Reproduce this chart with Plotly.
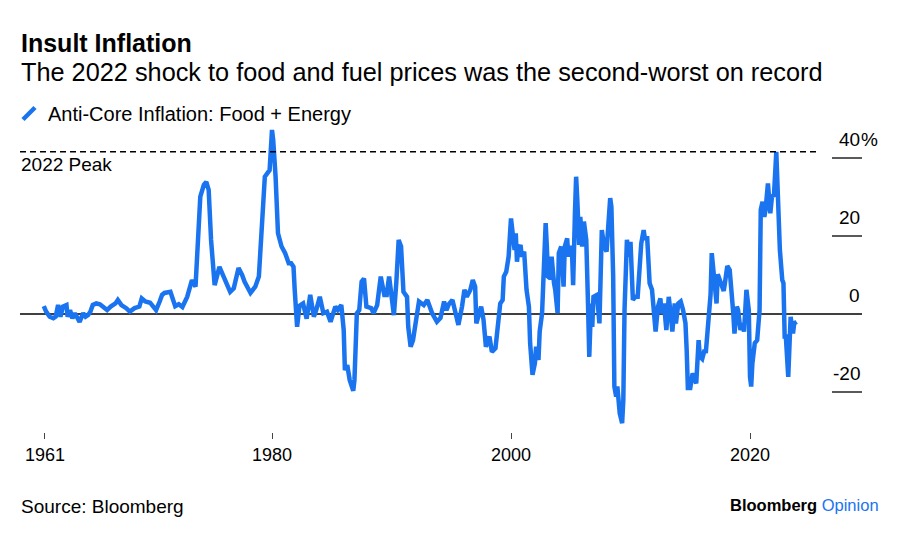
import plotly.graph_objects as go

# ---- data ----
years = [1960.9, 1961.1, 1961.4, 1961.7, 1961.9, 1962.1, 1962.3, 1962.5, 1962.8, 1962.9,
         1963.1, 1963.3, 1963.5, 1963.7, 1963.9, 1964.2, 1964.4, 1964.6, 1964.8, 1965.0,
         1965.3, 1965.6, 1965.9, 1966.2, 1966.5, 1966.9, 1967.1, 1967.4, 1967.8, 1968.1,
         1968.5, 1968.9, 1969.1, 1969.4, 1969.8, 1970.1, 1970.3, 1970.6, 1970.8, 1971.0,
         1971.5, 1971.9, 1972.2, 1972.5, 1972.9, 1973.3, 1973.6, 1974.0, 1974.3, 1974.5,
         1974.7, 1974.9, 1975.1, 1975.2, 1975.6, 1976.1, 1976.5, 1976.8, 1977.2, 1977.5,
         1977.7, 1978.2, 1978.6, 1978.9, 1979.1, 1979.4, 1979.8, 1980.0, 1980.1, 1980.3,
         1980.5, 1980.8, 1981.1, 1981.4, 1981.6, 1981.8, 1981.9, 1982.1, 1982.3, 1982.6,
         1982.9, 1983.2, 1983.5, 1983.7, 1984.0, 1984.3, 1984.6, 1984.9, 1985.3, 1985.5,
         1985.8, 1986.0, 1986.1, 1986.3, 1986.5, 1986.8, 1986.9, 1987.1, 1987.3, 1987.5,
         1987.7, 1987.9, 1988.3, 1988.5, 1988.8, 1989.1, 1989.4, 1989.6, 1989.8, 1990.0,
         1990.2, 1990.4, 1990.6, 1990.8, 1991.0, 1991.3, 1991.4, 1991.6, 1991.8, 1992.1,
         1992.3, 1992.7, 1993.0, 1993.4, 1993.8, 1994.1, 1994.4, 1994.6, 1994.8, 1995.1,
         1995.4, 1995.6, 1995.9, 1996.1, 1996.3, 1996.6, 1996.8, 1997.0, 1997.1, 1997.5,
         1997.7, 1997.9, 1998.2, 1998.4, 1998.7, 1998.9, 1999.1, 1999.3, 1999.4, 1999.6,
         1999.8, 2000.0, 2000.1, 2000.3, 2000.4, 2000.5, 2000.6, 2000.8, 2000.9, 2001.1,
         2001.3, 2001.5, 2001.6, 2001.8, 2002.0, 2002.1, 2002.3, 2002.4, 2002.6, 2002.8,
         2002.9, 2003.0, 2003.1, 2003.3, 2003.4, 2003.6, 2003.7, 2003.9, 2004.0, 2004.2,
         2004.4, 2004.5, 2004.7, 2004.8, 2004.9, 2005.1, 2005.2, 2005.35, 2005.45, 2005.55,
         2005.7, 2005.8, 2005.95, 2006.1, 2006.3, 2006.45, 2006.55, 2006.7, 2006.8, 2006.9,
         2007.2, 2007.4, 2007.5, 2007.6, 2007.8, 2008.0, 2008.1, 2008.3, 2008.4, 2008.55,
         2008.65, 2008.8, 2008.9, 2009.1, 2009.3, 2009.4, 2009.5, 2009.6, 2009.7, 2009.9,
         2010.0, 2010.2, 2010.4, 2010.6, 2010.7, 2010.9, 2011.1, 2011.2, 2011.4, 2011.6,
         2011.8, 2012.0, 2012.1, 2012.3, 2012.5, 2012.6, 2012.8, 2013.0, 2013.2, 2013.4,
         2013.5, 2013.7, 2013.8, 2014.0, 2014.2, 2014.4, 2014.6, 2014.7, 2014.8, 2015.0,
         2015.2, 2015.3, 2015.5, 2015.7, 2015.8, 2016.0, 2016.2, 2016.3, 2016.5, 2016.7,
         2016.8, 2017.0, 2017.2, 2017.3, 2017.5, 2017.8, 2017.9, 2018.1, 2018.3, 2018.5,
         2018.6, 2018.7, 2018.9, 2019.0, 2019.2, 2019.4, 2019.5, 2019.7, 2019.9, 2020.0,
         2020.1, 2020.2, 2020.4, 2020.6, 2020.8, 2020.9, 2021.05, 2021.2, 2021.3, 2021.5,
         2021.7, 2021.85, 2022.0, 2022.2, 2022.3, 2022.4, 2022.5, 2022.7, 2022.8, 2022.9,
         2023.0, 2023.2, 2023.3, 2023.4, 2023.6, 2023.7, 2023.9]

anti_core = [2.0, 0.6, -0.7, -1.1, -0.7, 2.3, -0.7, 1.9, 2.3, -0.7,
             1.0, -1.1, 0.2, -0.7, -2.0, 0.2, -0.7, -0.3, 0.6, 2.3,
             2.7, 2.5, 1.9, 1.0, 1.9, 2.7, 3.6, 2.3, 1.5, 0.6,
             1.5, 1.9, 4.0, 3.2, 2.9, 1.9, 1.0, 3.2, 4.9, 5.4,
             5.7, 2.0, 2.5, 1.8, 4.4, 8.7, 7.0, 30.1, 33.1, 33.9,
             31.8, 19.0, 8.7, 7.4, 12.1, 8.3, 5.7, 6.6, 11.8, 10.0,
             8.3, 5.4, 7.0, 9.6, 21.5, 35.2, 36.9, 47.2, 44.6, 35.2,
             20.7, 17.3, 15.6, 13.0, 13.0, 12.1, 6.2, -3.3, 2.1, 2.7,
             -1.2, 4.9, -0.7, 1.0, 4.4, 0.2, 0.6, -2.0, 1.9, 1.0,
             2.3, -4.1, -14.4, -13.1, -16.9, -19.7, -16.9, 0.2, 1.0, 8.3,
             9.1, 1.9, 1.5, 0.2, 2.3, 9.6, 4.9, 4.9, 9.6, 4.4,
             -0.3, 7.9, 19.0, 17.3, 5.7, 4.4, -3.3, -8.4, -6.7, -0.7,
             3.2, 2.3, 3.6, 0.2, -2.0, -1.0, 3.2, 1.0, 2.5, 3.6,
             -1.1, -2.8, 1.9, 6.2, 4.4, 6.2, 8.7, 7.0, -2.4, 1.9,
             -1.5, -8.4, -5.8, -9.7, -8.8, -2.4, 2.7, 3.6, 9.6, 10.8,
             14.7, 24.5, 21.5, 16.4, 20.7, 13.4, 16.4, 17.7, 14.7, 16.0,
             6.2, 1.9, -7.5, -15.6, -12.6, -8.4, -11.8, -4.5, 0.2, 13.8,
             23.3, 17.3, 9.6, 9.1, 14.7, 7.9, 6.2, 0.2, 15.6, 17.3,
             7.0, 17.3, 19.4, 14.7, 17.3, 16.4, 7.4, 25.8, 35.2, 29.2,
             17.7, 24.9, 17.3, 23.7, 19.0, 1.9, -11.0, 2.7, -3.3, 4.4,
             4.9, -2.4, 16.4, 21.5, 17.3, 16.0, 20.7, 29.7, 27.5, 9.6,
             -18.6, -21.2, -18.6, -25.5, -28.0, -22.0, 1.0, 16.4, 19.0, 14.7,
             18.5, 3.6, 4.4, 4.4, 7.9, 18.1, 21.5, 19.4, 19.4, 7.9,
             6.2, -0.7, -4.5, 1.9, 4.0, 0.2, 2.7, -4.1, 4.4, -1.1,
             -4.5, 2.7, -2.4, 2.7, 3.2, 1.0, -2.4, -9.2, -19.0, -19.0,
             -15.2, -16.1, -17.8, -6.7, -10.9, -11.5, -9.2, -10.0, -2.0, 5.0,
             15.6, 8.7, 2.7, 10.2, 8.5, 5.9, 7.9, 12.3, 11.3, 5.3,
             0.2, -5.0, 1.9, 1.0, -4.1, -2.4, -4.5, 6.2, 1.0, -16.1,
             -18.6, -12.6, -7.5, -6.7, 1.0, 26.7, 28.8, 24.9, 26.7, 33.5,
             25.8, 30.5, 30.1, 41.6, 31.0, 19.8, 16.4, 8.7, 7.9, -5.8,
             -5.8, -16.1, -7.5, -0.7, -5.0, -2.4, -2.0]

x_tick_vals = [1961, 1980, 2000, 2020]
x_tick_text = ["1961", "1980", "2000", "2020"]
y_tick_vals = [40, 20, 0, -20]
y_tick_text = ["40", "20", "0", "-20"]

peak_2022 = max(v for y, v in zip(years, anti_core) if 2022 <= y < 2023)

# ---- layout geometry (pixels) ----
W, H = 900, 535
L, R, T, B = 20, 38, 120, 103
PW, PH = W - L - R, H - T - B


def px(x):
    return (x - L) / PW


def py(y):
    return (H - B - y) / PH


BLUE = "#1A74F0"
FONT = "Liberation Sans, Arial, sans-serif"

fig = go.Figure()
fig.add_trace(go.Scatter(x=years, y=anti_core, mode="lines",
                         line=dict(color=BLUE, width=4.5), showlegend=False,
                         hoverinfo="skip"))

shapes = []
annotations = []

# zero line and right-side tick lines
for v, t in zip(y_tick_vals, y_tick_text):
    if v == 0:
        shapes.append(dict(type="line", xref="paper", yref="y", x0=0, x1=1, y0=v, y1=v,
                           line=dict(color="black", width=1.3), layer="below"))
    else:
        shapes.append(dict(type="line", xref="paper", yref="y", x0=px(832), x1=1, y0=v, y1=v,
                           line=dict(color="black", width=1.3)))
    annotations.append(dict(xref="paper", yref="y", x=1, y=v, xanchor="right", yanchor="middle",
                            yshift=18.5, text=t, showarrow=False,
                            font=dict(family=FONT, size=19, color="black")))
annotations.append(dict(xref="paper", yref="y", x=1, y=40, xanchor="left", yanchor="middle",
                        yshift=18.5, xshift=-3, text="%", showarrow=False,
                        font=dict(family=FONT, size=19, color="black")))

# 2022 peak dashed line
shapes.append(dict(type="line", xref="paper", yref="y", x0=0, x1=px(817), y0=peak_2022, y1=peak_2022,
                   line=dict(color="black", width=1.6, dash="6px,4px")))
annotations.append(dict(xref="paper", yref="y", x=0, y=peak_2022, xanchor="left", yanchor="middle",
                        yshift=-13, xshift=-1, text="2022 Peak", showarrow=False,
                        font=dict(family=FONT, size=19, color="black")))

# titles
annotations.append(dict(xref="paper", yref="paper", x=px(19), y=py(43), xanchor="left", yanchor="middle",
                        text="<b>Insult Inflation</b>", showarrow=False,
                        font=dict(family=FONT, size=25, color="black")))
annotations.append(dict(xref="paper", yref="paper", x=px(19), y=py(72), xanchor="left", yanchor="middle",
                        text="The 2022 shock to food and fuel prices was the second-worst on record",
                        showarrow=False, font=dict(family=FONT, size=25.3, color="black")))

# legend
shapes.append(dict(type="line", xref="paper", yref="paper", x0=px(23), y0=py(119.5), x1=px(35), y1=py(107.5),
                   line=dict(color=BLUE, width=4.5)))
annotations.append(dict(xref="paper", yref="paper", x=px(45.5), y=py(114), xanchor="left", yanchor="middle",
                        text="Anti-Core Inflation: Food + Energy", showarrow=False,
                        font=dict(family=FONT, size=20, color="black")))

# footer
annotations.append(dict(xref="paper", yref="paper", x=px(19), y=py(506), xanchor="left", yanchor="middle",
                        text="Source: Bloomberg", showarrow=False,
                        font=dict(family=FONT, size=19, color="black")))
annotations.append(dict(xref="paper", yref="paper", x=px(881), y=py(505), xanchor="right", yanchor="middle",
                        text="<b>Bloomberg</b> <span style='color:%s'>Opinion</span>" % BLUE,
                        showarrow=False, font=dict(family=FONT, size=16.5, color="black")))

x0 = 2000 - (511 - L) / 11.95
x1 = 2000 + (W - R - 511) / 11.95
y_top = (314 - T) / 3.9
y_bot = (314 - (H - B)) / 3.9

fig.update_layout(
    width=W, height=H,
    margin=dict(l=L, r=R, t=T, b=B, pad=0),
    paper_bgcolor="white", plot_bgcolor="white",
    shapes=shapes, annotations=annotations,
    xaxis=dict(range=[x0, x1], tickvals=x_tick_vals, ticktext=x_tick_text,
               ticks="outside", ticklen=6, tickwidth=1, tickcolor="#444",
               showgrid=False, zeroline=False, showline=False,
               tickfont=dict(family=FONT, size=18, color="black")),
    yaxis=dict(range=[y_bot, y_top], visible=False),
    font=dict(family=FONT),
)

fig.write_html("out.html", config={"displayModeBar": False},
               post_script="document.body.style.margin='0';document.body.style.padding='0';")
